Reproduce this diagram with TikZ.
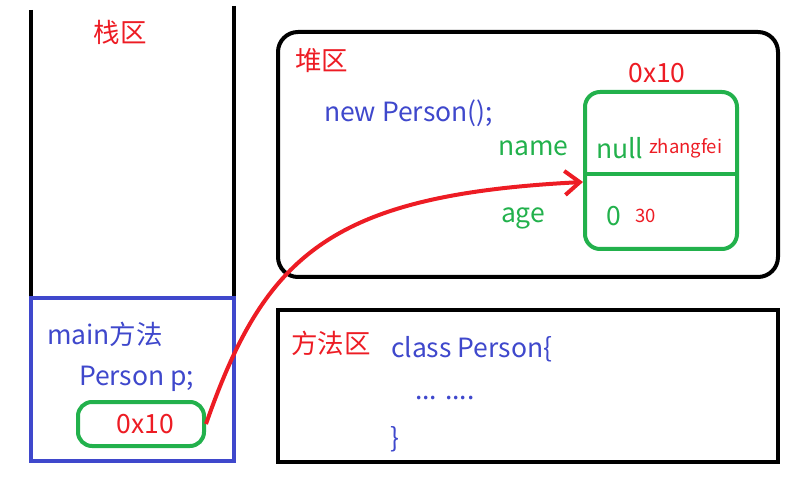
\documentclass[tikz,border=0pt]{standalone}
\usepackage{fontspec}
\setmainfont{Noto Sans CJK SC}
\usepackage{tikz}
\usetikzlibrary{arrows.meta}
\usepackage{xcolor}
\definecolor{memred}{RGB}{237,28,36}
\definecolor{memblue}{RGB}{63,72,204}
\definecolor{memgreen}{RGB}{34,177,76}

\begin{document}
\begin{tikzpicture}[x=1pt,y=-1pt,line width=4pt,
  txt/.style={font=\fontsize{26.5}{30}\selectfont,inner sep=0pt},
  small/.style={font=\fontsize{18.5}{22}\selectfont,inner sep=0pt,text=memred},
  region/.style={txt,text=memred},
  code/.style={txt,text=memblue},
  field/.style={txt,text=memgreen},
  wall/.style={draw=black},
  objbox/.style={draw=memgreen,rounded corners=15pt,minimum width=152pt,minimum height=157pt,inner sep=0pt},
  ref/.style={draw=memred,-{Straight Barb[length=15pt,width=24pt]}}]
\useasboundingbox (0,0) rectangle (806,486);
%%%STACK
\draw[wall] (31,10) -- (31,462);
\draw[wall] (234,6) -- (234,462);
\node[region] (stacklbl) at (120,32) {栈区};
\node[draw=memblue,minimum width=203pt,minimum height=163pt,inner sep=0pt,fill=white] (frame) at (132.5,379.5) {};
\node[code,anchor=west] (mainlbl) at (45,334) {main方法};
\node[code,anchor=west] (pvar) at (77,379) {Person p;};
\node[draw=memgreen,rounded corners=14pt,minimum width=126pt,minimum height=44pt,inner sep=0pt,
  txt,text=memred] (addr) at (141,424) {\,\,0x10};
%%%HEAP
\node[wall,rounded corners=20pt,minimum width=500pt,minimum height=245pt,inner sep=0pt] (heap) at (528,154.5) {};
\node[region,anchor=west] (heaplbl) at (293,61) {堆区};
\node[region] (objaddr) at (657,73) {0x10};
\node[code,anchor=west] (newp) at (322,113) {new Person();};
\node[field,anchor=west] (namelbl) at (496,148) {name};
\node[field,anchor=west] (agelbl) at (499,218) {age};
\node[objbox] (obj) at (661,170.5) {};
\draw[draw=memgreen] (obj.west |- 0,174) -- (obj.east |- 0,174);
\node[field,anchor=west] (nameval) at (594,148) {null};
\node[small,anchor=west] (namenew) at (647,148) {zhangfei};
\node[field,anchor=west] (ageval) at (604,216) {0};
\node[small,anchor=west] (agenew) at (633,216) {30};
\coordinate (objin) at (obj.west |- 0,182);
%%%METHOD AREA
\node[wall,minimum width=500pt,minimum height=152pt,inner sep=0pt] (method) at (528,386) {};
\node[region,anchor=west] (methodlbl) at (289,343) {方法区};
\node[code,anchor=west] (cls) at (389,349) {class Person\{};
\node[code,anchor=west] (body) at (413,398) {... ....};
\node[code,anchor=west] (close) at (388,439) {\}};
%%%REFERENCE
\draw[ref] (addr.east) .. controls (265,255) and (330,195) .. (objin);
\end{tikzpicture}
\end{document}
